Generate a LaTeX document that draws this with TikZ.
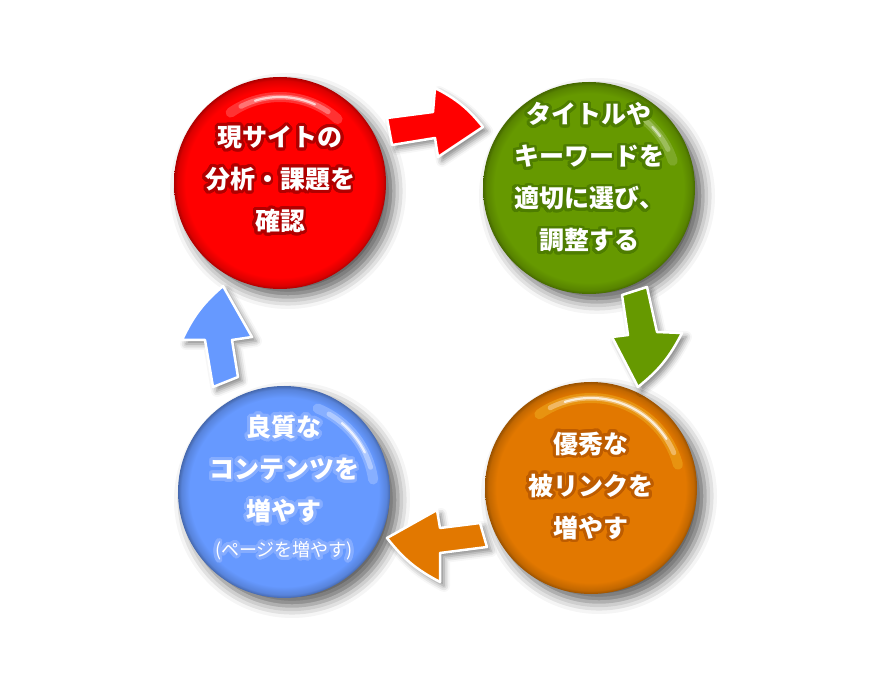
\documentclass[tikz,border=0pt]{standalone}
\usepackage{fontspec}
\newfontfamily\jp{Noto Sans CJK JP}
\usepackage{contour}
\contourlength{2.9pt}
\contournumber{32}
\usetikzlibrary{shadows.blur,calc}
\definecolor{cred}{HTML}{FF0000}
\definecolor{cgreen}{HTML}{669900}
\definecolor{corange}{HTML}{E27800}
\definecolor{cblue}{HTML}{6699FF}
\definecolor{gred}{HTML}{B00000}
\definecolor{ggreen}{HTML}{4E7D00}
\definecolor{gorange}{HTML}{BD5C00}
\definecolor{gblue}{HTML}{86ADFF}
\newcommand\mkball[2]{\pgfdeclareradialshading{#1}{\pgfpoint{0bp}{0bp}}{color(0bp)=(#2); color(22.3bp)=(#2); color(24.2bp)=(#2!86!black); color(25bp)=(#2!68!black); color(50bp)=(#2!68!black)}}
\mkball{ballred}{cred}
\mkball{ballgreen}{cgreen}
\mkball{ballorange}{corange}
\mkball{ballblue}{cblue}
% highlight arc: centre, radius, start angle, end angle, halo colour, strength
\newcommand\hlarc[6]{%
 \draw[#5, line cap=round, line width=10pt, opacity=0.22*#6] ($(#1)+(#3:#2)$) arc[start angle=#3, end angle=#4, radius=#2];
 \draw[white, line cap=round, line width=5pt, opacity=0.35*#6] ($(#1)+(#3-8:#2)$) arc[start angle=#3-8, end angle=#4+8, radius=#2];
 \draw[white, line cap=round, line width=2.2pt, opacity=0.75*#6] ($(#1)+(#3-18:#2)$) arc[start angle=#3-18, end angle=#4+18, radius=#2];
}
\begin{document}
\begin{tikzpicture}[x=1pt,y=1pt]
\tikzset{
 ball/.style={circle, minimum size=212pt, inner sep=0pt, outer sep=0pt, shade, shading=#1,
   blur shadow={shadow xshift=8pt, shadow yshift=-8pt, shadow blur radius=12pt, shadow opacity=62}},
 arr/.style={fill=#1, draw=white, line width=2.5pt, line join=round,
   blur shadow={shadow xshift=4pt, shadow yshift=-4pt, shadow blur radius=6pt, shadow opacity=50}},
 txt/.style={text=white, align=center, font=\jp\bfseries\fontsize{25}{42}\selectfont, inner sep=0pt}
}
\useasboundingbox (0,0) rectangle (873,673);
% balls
\node[ball=ballred]    (n1) at (280,490) {};
\node[ball=ballgreen]  (n2) at (589,485) {};
\node[ball=ballorange] (n3) at (591,185) {};
\node[ball=ballblue]   (n4) at (284,181) {};
% highlights
\hlarc{n1.center}{86}{125}{48}{white}{0.9}
\hlarc{n2.center}{88}{62}{18}{white}{0.7}
\hlarc{n3.center}{90}{125}{15}{yellow!70!white}{1}
\hlarc{n4.center}{90}{68}{8}{white}{1}
% arrows
\draw[arr=cred] (387,555) -- (433,561) -- (435,585) to[bend left=12] (483,546)
   -- (438,516) -- (435,535) -- (392,528) -- cycle;
\draw[arr=cgreen] (622,378) -- (647,386) -- (657,341) -- (682,340) to[bend left=12] (638,286)
   -- (612,336) -- (628,338) -- cycle;
\draw[arr=corange] (480,150) -- (487,126) -- (440,120) -- (440,91) to[bend left=12] (387,135)
   -- (437,163) -- (440,145) -- cycle;
\draw[arr=cblue] (213,286) -- (205,333) -- (182,333) to[bend left=12] (223,387)
   -- (252,336) -- (232,333) -- (238,296) -- cycle;
% texts
\node[txt] (t1) at ($(n1.center)+(0,2)$) {\contour{gred}{現サイトの}\\\contour{gred}{分析・課題を}\\\contour{gred}{確認}};
\node[txt] (t2) at ($(n2.center)+(0,9)$) {\contour{ggreen}{タイトルや}\\\contour{ggreen}{キーワードを}\\\contour{ggreen}{適切に選び、}\\\contour{ggreen}{調整する}};
\node[txt] (t3) at ($(n3.center)+(0,1)$) {\contour{gorange}{優秀な}\\\contour{gorange}{被リンクを}\\\contour{gorange}{増やす}};
\node[txt] (t4) at ($(n4.center)+(0,3)$) {\contour{gblue}{良質な}\\\contour{gblue}{コンテンツを}\\\contour{gblue}{増やす}\\[-6pt]{\mdseries\fontsize{18}{20}\selectfont\contour{gblue}{(ページを増やす)}}};
\end{tikzpicture}
\end{document}
